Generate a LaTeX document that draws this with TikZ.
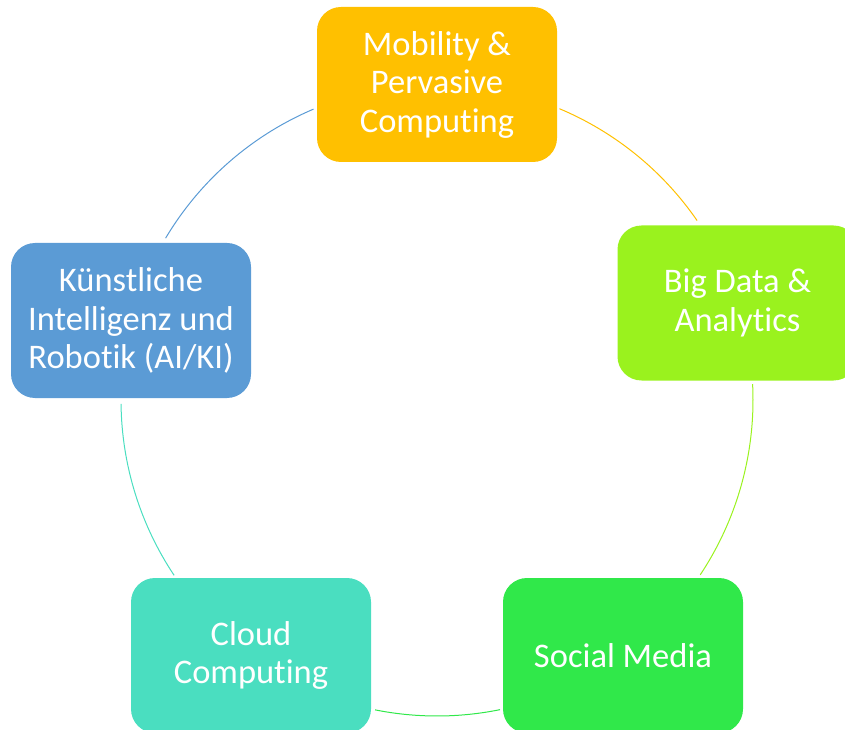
\documentclass[tikz,border=0pt]{standalone}
\usepackage{fontspec}
\setmainfont{Carlito}[RawFeature={-liga;-clig;-calt;-dlig}]
\usetikzlibrary{calc}
\definecolor{cTop}{HTML}{FFC000}
\definecolor{cRight}{HTML}{9AF21E}
\definecolor{cBR}{HTML}{30E84A}
\definecolor{cBL}{HTML}{4ADEC0}
\definecolor{cLeft}{HTML}{5B9BD5}
\tikzset{
  topic/.style={draw=none, fill=#1, rounded corners=24pt, minimum width=240pt,
    minimum height=155pt, align=center, text=white, inner sep=0pt,
    font=\fontsize{34.5pt}{38.5pt}\selectfont},
  ring/.style={draw=#1, line width=1pt}
}
\begin{document}
\begin{tikzpicture}[x=1pt,y=1pt]
\useasboundingbox (0,0) rectangle (845,729);
\clip (0,0) rectangle (845,729);
\coordinate (O) at (437,329);
\node[topic=cTop]   (mob)   at (437,644.5) {Mobility \&\\Pervasive\\Computing};
\node[topic=cRight] (big)   at (737.5,426) {Big Data \&\\Analytics};
\node[topic=cBR]    (soc)   at (623,73.5)  {Social Media};
\node[topic=cBL]    (cloud) at (251,73.5)  {Cloud\\Computing};
\node[topic=cLeft]  (ai)    at (131,408.5) {Künstliche\\Intelligenz und\\Robotik (AI/KI)};
\coordinate (a1) at ($(O)+(67.2:316)$);
\coordinate (a2) at ($(O)+(2.9:316)$);
\coordinate (a3) at ($(O)+(-78.5:316)$);
\coordinate (a4) at ($(O)+(-146.3:316)$);
\coordinate (a5) at ($(O)+(149.2:316)$);
\draw[ring=cTop]   (a1) arc[start angle=67.2,  end angle=34.6,   radius=316];
\draw[ring=cRight] (a2) arc[start angle=2.9,   end angle=-33.6,  radius=316];
\draw[ring=cBR]    (a3) arc[start angle=-78.5, end angle=-101.3, radius=316];
\draw[ring=cBL]    (a4) arc[start angle=-146.3,end angle=-179.3, radius=316];
\draw[ring=cLeft]  (a5) arc[start angle=149.2, end angle=113.0,  radius=316];
\end{tikzpicture}
\end{document}
